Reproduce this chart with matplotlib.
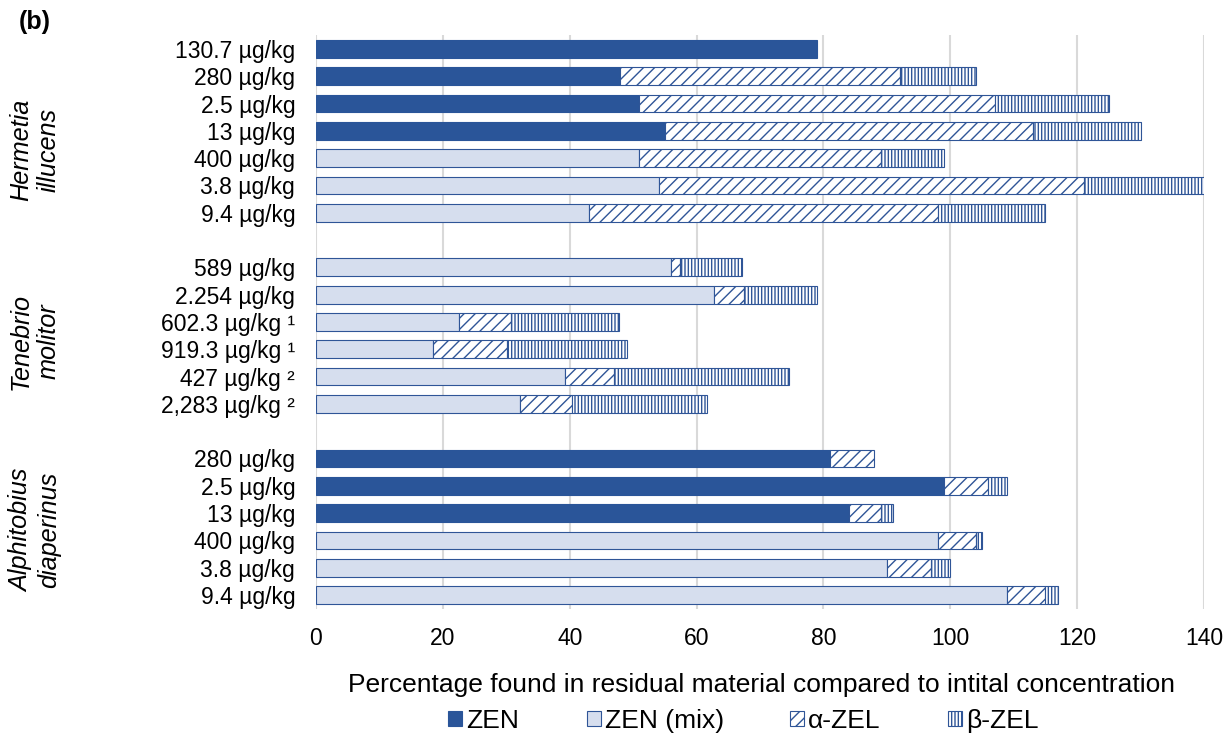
import numpy as np
import matplotlib
matplotlib.use("Agg")
import matplotlib.pyplot as plt

plt.rcParams["font.family"] = ["Liberation Sans", "DejaVu Sans"]
plt.rcParams["hatch.linewidth"] = 1.0

# Concentration labels, top to bottom, per insect species
hermetia_labels = ["130.7 µg/kg", "280 µg/kg", "2.5 µg/kg", "13 µg/kg",
                   "400 µg/kg", "3.8 µg/kg", "9.4 µg/kg"]
tenebrio_labels = ["589 µg/kg", "2.254 µg/kg", "602.3 µg/kg ¹", "919.3 µg/kg ¹",
                   "427 µg/kg ²", "2,283 µg/kg ²"]
alphitobius_labels = ["280 µg/kg", "2.5 µg/kg", "13 µg/kg",
                      "400 µg/kg", "3.8 µg/kg", "9.4 µg/kg"]

species = ["Hermetia\nillucens", "Tenebrio\nmolitor", "Alphitobius\ndiaperinus"]

# Percentage found in residual material (stacked segments)
zen = [79, 48, 51, 55, 0, 0, 0,
       0, 0, 0, 0, 0, 0,
       81, 99, 84, 0, 0, 0]
zen_mix = [0, 0, 0, 0, 51, 54, 43,
           56, 62.7, 22.5, 18.4, 39.3, 32.1,
           0, 0, 0, 98, 90, 109]
alpha_zel = [0, 44, 56, 58, 38, 67, 55,
             1.4, 4.8, 8.3, 11.7, 7.7, 8.2,
             7, 7, 5, 6, 7, 6]
beta_zel = [0, 12, 18, 17, 10, 19, 17,
            9.8, 11.5, 17, 19, 27.5, 21.3,
            0, 3, 2, 1, 3, 2]

xticks = [0, 20, 40, 60, 80, 100, 120, 140]

labels = hermetia_labels + tenebrio_labels + alphitobius_labels
group_sizes = [len(hermetia_labels), len(tenebrio_labels), len(alphitobius_labels)]

# Row positions with an empty slot between species groups
ypos = []
slot = 0
for n in group_sizes:
    ypos += list(range(slot, slot + n))
    slot += n + 1
ypos = np.array(ypos, dtype=float)

dark = "#2A5599"
edge = "#2F5597"
light = "#D6DEEE"

fig = plt.figure(figsize=(12.3, 7.34), dpi=100)
ax = fig.add_axes([0.2569, 0.1708, 0.722, 0.7811])

series = [
    ("ZEN", np.array(zen, float), dict(color=dark, edgecolor=dark, linewidth=0.8)),
    ("ZEN (mix)", np.array(zen_mix, float), dict(color=light, edgecolor=edge, linewidth=0.8)),
    ("α-ZEL", np.array(alpha_zel, float), dict(color="white", edgecolor=edge, linewidth=0.8, hatch="///")),
    ("β-ZEL", np.array(beta_zel, float), dict(color="white", edgecolor=edge, linewidth=0.8, hatch="|||||")),
]

left = np.zeros(len(labels))
handles = []
for name, vals, style in series:
    mask = vals > 0
    bc = ax.barh(ypos[mask], vals[mask], left=left[mask], height=0.65,
                 label=name, zorder=3, **style)
    handles.append(bc)
    left = left + vals

ax.set_xlim(0, 140)
ax.set_ylim(ypos.max() + 0.5, -0.5)
ax.set_xticks(xticks)
ax.set_yticks(ypos)
ax.set_yticklabels(labels)
ax.tick_params(axis="both", length=0, labelsize=16.5)
ax.tick_params(axis="y", pad=15)
ax.tick_params(axis="x", pad=13)
for s in ax.spines.values():
    s.set_visible(False)
ax.xaxis.grid(True, color="#D9D9D9", linewidth=1.5, zorder=0)
ax.set_axisbelow(True)

# Species names, italic and rotated, to the left of the concentration labels
group_label_y = [150, 341, 530]
for name, yp in zip(species, group_label_y):
    fig.text(35 / 1230, 1 - yp / 734, name, rotation=90, style="italic",
             fontsize=18.2, ha="center", va="center", multialignment="center",
             linespacing=1.2)

fig.text(35 / 1230, 1 - 22 / 734, "(b)", fontsize=18, fontweight="bold",
         ha="center", va="center")

fig.text(762 / 1230, 1 - 685 / 734,
         "Percentage found in residual material compared to intital concentration",
         fontsize=19, ha="center", va="center")

# Legend entries along the bottom
legend_x = [448, 587, 790, 948]
for h, (name, _, _), lx in zip(handles, series, legend_x):
    fig.legend([h], [name], loc="center left",
               bbox_to_anchor=(lx / 1230, 1 - 721 / 734),
               frameon=False, fontsize=19, borderpad=0, borderaxespad=0,
               handlelength=0.53, handleheight=0.53, handletextpad=0.15)

fig.savefig("out.png", dpi=100)
